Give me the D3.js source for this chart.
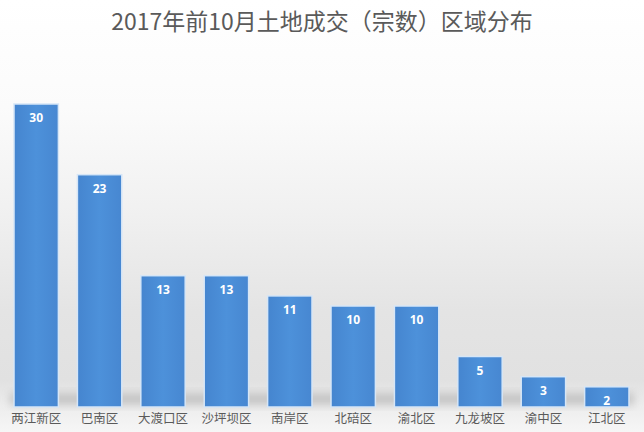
<!DOCTYPE html>
<html><head><meta charset="utf-8">
<script src="https://cdn.jsdelivr.net/npm/d3@7"></script>
<style>html,body{margin:0;padding:0;background:#fff;}svg{display:block;}</style>
</head><body>
<script>
const categories = ["两江新区","巴南区","大渡口区","沙坪坝区","南岸区","北碚区","渝北区","九龙坡区","渝中区","江北区"];
const values = [30,23,13,13,11,10,10,5,3,2];
const title = "2017年前10月土地成交（宗数）区域分布";

const W = 644, H = 432;
const svg = d3.select("body").append("svg").attr("width", W).attr("height", H);
const defs = svg.append("defs");

const bg = defs.append("linearGradient").attr("id","bg").attr("x1",0).attr("y1",0).attr("x2",0).attr("y2",1);
[[0,"#ffffff"],[0.25,"#fbfbfb"],[0.5,"#f0f0f0"],[0.72,"#e4e4e4"],[0.88,"#e1e1e1"],[0.94,"#ededed"],[1,"#f6f6f6"]]
  .forEach(([o,c]) => bg.append("stop").attr("offset",o).attr("stop-color",c));

const barG = defs.append("linearGradient").attr("id","bar").attr("x1",0).attr("y1",0).attr("x2",1).attr("y2",0);
[[0,"#4585cf"],[0.5,"#4d91da"],[1,"#4787d1"]]
  .forEach(([o,c]) => barG.append("stop").attr("offset",o).attr("stop-color",c));

const blur = defs.append("filter").attr("id","blur").attr("x","-20%").attr("y","-50%").attr("width","140%").attr("height","200%");
blur.append("feGaussianBlur").attr("stdDeviation",4);

svg.append("rect").attr("width",W).attr("height",H).attr("fill","url(#bg)");

const x = d3.scaleBand().domain(categories).range([4.5, 638.5]).paddingInner(0.3).paddingOuter(0.15);
const y = d3.scaleLinear().domain([0,30]).range([407,104]);

// floor shadow
svg.append("rect").attr("x", 10).attr("y", y(0)-14).attr("width", 624).attr("height", 12)
  .attr("fill","#b5b5b5").attr("opacity",0.7).attr("filter","url(#blur)");

svg.append("text").attr("x", W/2).attr("y", 30).attr("text-anchor","middle")
  .attr("font-family","'Noto Sans CJK SC', sans-serif").attr("font-size",23)
  .attr("fill","#5a5a5a").text(title);

const g = svg.append("g");
g.selectAll("rect.bar").data(values).join("rect").attr("class","bar")
  .attr("x",(d,i)=>x(categories[i]))
  .attr("y",d=>y(d))
  .attr("width",x.bandwidth())
  .attr("height",d=>y(0)-y(d))
  .attr("fill","url(#bar)")
  .attr("stroke","#d6e6f7").attr("stroke-width",1.5);

g.selectAll("text.val").data(values).join("text").attr("class","val")
  .attr("x",(d,i)=>x(categories[i])+x.bandwidth()/2)
  .attr("y",d=>y(d)+18)
  .attr("text-anchor","middle")
  .attr("font-family","'Noto Sans', 'DejaVu Sans', sans-serif").attr("font-weight","bold")
  .attr("font-size",12).attr("fill","#ffffff").text(d=>d);

const axis = d3.axisBottom(x).tickSize(0).tickPadding(7);
const ax = svg.append("g").attr("transform",`translate(0,${y(0)})`).call(axis);
ax.select(".domain").remove();
ax.selectAll("text").attr("font-family","'Noto Sans CJK SC', sans-serif").attr("font-size",12.5).attr("fill","#5a5a5a");
</script>
</body></html>
